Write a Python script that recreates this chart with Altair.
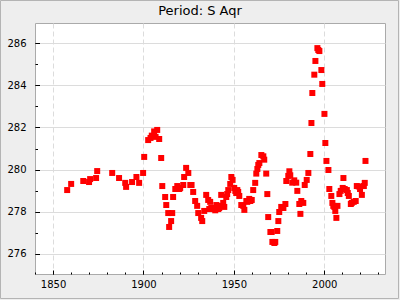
import altair as alt
import pandas as pd

years = [
    1857.8, 1860.0, 1866.7, 1869.9, 1870.5, 1873.8, 1874.4, 1882.7, 1886.5, 1889.9,
    1890.4, 1893.7, 1896.1, 1897.6, 1899.8, 1900.4, 1902.6, 1903.9, 1904.6, 1905.9,
    1906.7, 1907.6, 1908.7, 1909.8, 1910.4, 1912.0, 1912.6, 1913.7, 1914.2, 1915.3,
    1915.9, 1916.4, 1917.6, 1918.7, 1919.8, 1920.3, 1922.0, 1922.5, 1923.6, 1924.8,
    1925.9, 1926.6, 1927.5, 1928.6, 1929.7, 1930.3, 1931.9, 1932.5, 1933.6, 1934.7,
    1935.8, 1936.4, 1936.9, 1937.5, 1938.6, 1939.7, 1940.3, 1941.4, 1941.9, 1942.5,
    1943.0, 1944.1, 1944.7, 1945.8, 1946.3, 1946.9, 1948.0, 1948.6, 1949.3, 1950.2,
    1950.8, 1951.3, 1951.9, 1952.4, 1953.0, 1954.1, 1955.2, 1955.8, 1956.9, 1957.4,
    1958.5, 1959.1, 1959.9, 1960.7, 1961.8, 1962.4, 1963.0, 1963.5, 1964.1, 1965.2,
    1966.3, 1966.8, 1967.9, 1968.5, 1969.0, 1970.2, 1970.9, 1971.3, 1972.4, 1972.9,
    1974.0, 1974.6, 1975.1, 1976.2, 1977.4, 1978.5, 1979.0, 1980.1, 1980.7, 1981.2,
    1982.3, 1983.4, 1984.5, 1985.1, 1986.2, 1986.8, 1987.3, 1988.4, 1989.2, 1990.3,
    1991.2, 1992.3, 1992.9, 1993.4, 1994.5, 1995.1, 1996.2, 1996.7, 1997.3, 1998.4,
    1998.9, 2000.1, 2000.6, 2001.2, 2002.3, 2002.8, 2003.9, 2004.5, 2005.0, 2005.6,
    2006.1, 2006.7, 2007.3, 2008.4, 2009.1, 2010.2, 2010.6, 2011.3, 2012.5, 2013.0,
    2013.6, 2014.7, 2015.2, 2016.3, 2017.4, 2018.0, 2019.1, 2019.8, 2020.8, 2021.9,
    2022.4, 2022.8,
]

periods = [
    279.03, 279.32, 279.46, 279.41, 279.55, 279.60, 279.93, 279.84, 279.60, 279.37,
    279.18, 279.41, 279.65, 279.37, 279.84, 280.60, 281.40, 281.50, 281.61, 281.81,
    281.55, 281.88, 281.45, 280.55, 279.22, 278.70, 278.32, 277.94, 277.28, 277.56,
    277.94, 278.70, 279.08, 279.22, 279.08, 279.13, 279.27, 279.65, 280.08, 279.84,
    279.27, 279.27, 278.94, 278.51, 278.28, 277.94, 277.71, 277.56, 278.04, 278.80,
    278.56, 278.13, 278.47, 278.18, 278.13, 278.07, 278.32, 278.13, 278.18, 278.28,
    278.80, 278.42, 278.23, 278.70, 278.84, 279.03, 279.32, 279.65, 279.51, 279.13,
    278.99, 278.89, 279.03, 278.94, 278.75, 278.32, 278.28, 278.09, 278.51, 278.47,
    278.61, 278.51, 278.56, 279.03, 279.37, 279.81, 280.03, 280.22, 280.31, 280.69,
    280.63, 280.47, 279.81, 278.84, 277.75, 277.04, 277.04, 276.57, 276.52, 276.57,
    277.09, 277.56, 277.99, 278.23, 278.18, 278.37, 279.46, 279.70, 279.92, 279.73,
    279.38, 279.49, 279.38, 278.99, 278.37, 277.90, 278.51, 278.42, 279.27, 279.51,
    279.84, 280.74, 282.21, 283.63, 284.50, 285.15, 285.76, 285.67, 285.62, 284.72,
    284.06, 282.64, 281.26, 280.41, 279.98, 279.08, 278.75, 278.42, 278.28, 278.23,
    278.04, 277.71, 278.28, 278.84, 278.99, 279.13, 279.60, 279.08, 279.03, 278.89,
    278.75, 278.37, 278.42, 278.47, 278.51, 279.22, 279.20, 279.08, 278.80, 279.22,
    279.37, 280.41,
]

x_major = [1850, 1900, 1950, 2000]
x_minor = [1840, 1850, 1860, 1870, 1880, 1890, 1900, 1910, 1920, 1930, 1940,
           1950, 1960, 1970, 1980, 1990, 2000, 2010, 2020, 2030]
y_major = [276, 278, 280, 282, 284, 286]
y_minor = [275, 276, 277, 278, 279, 280, 281, 282, 283, 284, 285, 286, 287]

df = pd.DataFrame({"year": years, "period": periods})

W, H = 350, 251
xs = alt.Scale(domain=[1840, 2033.6], nice=False, zero=False)
ys = alt.Scale(domain=[275.05, 286.95], nice=False, zero=False)

base = alt.Chart(df)

pts = base.mark_square(size=36, color="#ff0000", opacity=1).encode(
    x=alt.X("year:Q", scale=xs, axis=alt.Axis(
        orient="bottom", values=x_major, format="d", title=None, ticks=False,
        labelPadding=5, grid=True, gridDash=[5, 3], gridColor="#dcdcdc",
        domain=False)),
    y=alt.Y("period:Q", scale=ys, axis=alt.Axis(
        orient="left", values=y_major, format="d", title=None, ticks=False,
        labelPadding=9, grid=True, gridColor="#dcdcdc", domain=False)),
)


def tick_layer(xv, yv, xlen, ylen):
    return base.mark_square(size=1, opacity=0).encode(
        x=alt.X("year:Q", scale=xs, axis=alt.Axis(
            orient="top", offset=-H, values=xv, labels=False, grid=False,
            domain=False, ticks=True, tickSize=xlen, tickColor="black", title=None)),
        y=alt.Y("period:Q", scale=ys, axis=alt.Axis(
            orient="right", offset=-W, values=yv, labels=False, grid=False,
            domain=False, ticks=True, tickSize=ylen, tickColor="black", title=None)),
    )


major = tick_layer(x_major, y_major, 4, 4.5)
minor = tick_layer(x_minor, y_minor, 2, 2.5)

frame = alt.Chart(alt.Data(values=[{}])).mark_rect(
    fillOpacity=0, stroke="#b4b4b4", strokeWidth=1
).encode(
    x=alt.value(-34.5), x2=alt.value(363.5), y=alt.value(-22.5), y2=alt.value(275.5)
)

chart = alt.layer(frame, pts, major, minor).resolve_axis(
    x="independent", y="independent"
).properties(
    width=W,
    height=H,
    title=alt.TitleParams("Period: S Aqr", fontSize=13, font="DejaVu Sans",
                          fontWeight="normal", color="black", anchor="middle",
                          dx=-10, dy=23, offset=5),
    padding={"left": 35, "top": 23, "right": 15, "bottom": 26},
    autosize=alt.AutoSizeParams(type="none"),
    background="#eeeeee",
).configure_view(
    stroke="#aaaaaa", fill="white"
).configure_axis(
    labelFont="DejaVu Sans", labelFontSize=10, labelColor="black"
)

chart.save("out.html", embed_options={"renderer": "svg", "actions": False})
